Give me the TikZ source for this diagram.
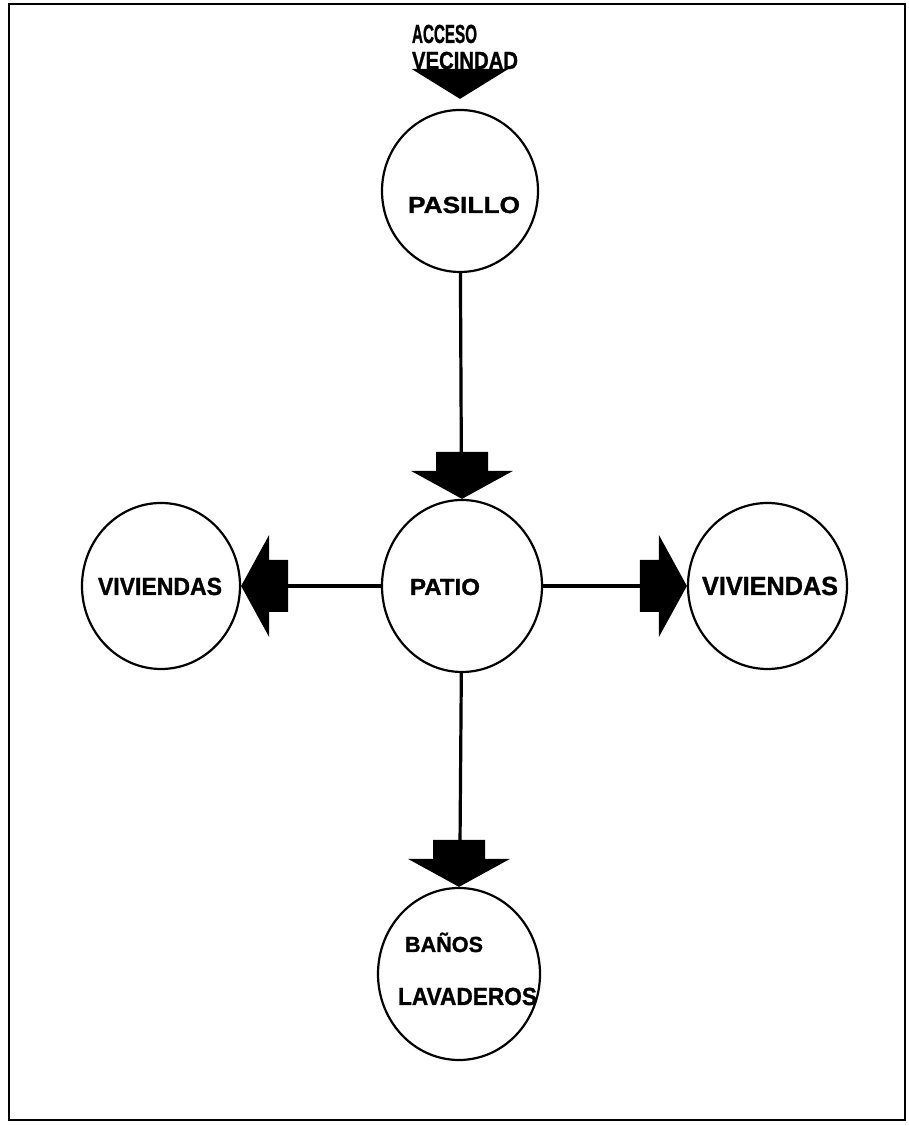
\documentclass[tikz,border=0pt]{standalone}
\usepackage{fontspec}
\setmainfont{Liberation Sans}[BoldFeatures={FakeBold=1.2}]
\usepackage{graphicx}
\usetikzlibrary{shapes.geometric,calc}
\newcommand\lbltext[3]{\resizebox{#1pt}{#2pt}{\smash{\bfseries #3}\vphantom{\bfseries B}}}
\newcommand\blockarrow[2]{\fill[shift={(#1)}, rotate=#2] (0,0) -- (-28,51) -- (-28,26) -- (-47,26) -- (-47,-26) -- (-28,-26) -- (-28,-51) -- cycle;}
\begin{document}
\begin{tikzpicture}[x=1pt,y=1pt,
  room/.style={draw, ellipse, line width=2.2pt, inner sep=0pt},
  conn/.style={line width=3.2pt, shorten >=46pt},
  lbl/.style={anchor=base west, inner sep=0pt, outer sep=0pt},
  frame/.style={line width=2pt}]
\useasboundingbox (0,0) rectangle (909,1126);
\draw[frame] (9,6) rectangle (905,1122);

% rooms
\node[room, minimum width=156pt, minimum height=162pt] (pasillo) at (460,935) {};
\node[room, minimum width=160pt, minimum height=172pt] (patio) at (462,540) {};
\node[room, minimum width=158pt, minimum height=166pt] (vivL) at (161,540) {};
\node[room, minimum width=159pt, minimum height=166pt] (vivR) at (767.5,540) {};
\node[room, minimum width=162pt, minimum height=172pt] (banos) at (459,152) {};

% entry arrow
\coordinate (entry) at ($(pasillo.north)+(0,10)$);
\fill (entry) -- ++(-48.5,30) -- ++(97,0) -- cycle;

% connectors
\draw[conn] (pasillo) -- (patio);
\blockarrow{patio.north}{-90}
\draw[conn] (patio) -- (vivL);
\blockarrow{vivL.east}{180}
\draw[conn] (patio) -- (vivR);
\blockarrow{vivR.west}{0}
\draw[conn] (patio) -- (banos);
\blockarrow{banos.north}{-90}

% labels
\node[lbl] (tacceso) at (412,1083) {\lbltext{65}{18}{ACCESO}};
\node[lbl] (tvecindad) at (412,1057) {\lbltext{106}{17}{VECINDAD}};
\node[lbl] (tpasillo) at (408,913) {\lbltext{112}{16}{PASILLO}};
\node[lbl] (tpatio) at (410,531) {\lbltext{70}{16}{PATIO}};
\node[lbl] (tvivL) at (98,531) {\lbltext{124}{17}{VIVIENDAS}};
\node[lbl] (tvivR) at (702,531) {\lbltext{136}{18}{VIVIENDAS}};
\node[lbl] (tbanos) at (405,174) {\lbltext{78}{15}{BAÑOS}};
\node[lbl] (tlava) at (398,121) {\lbltext{139}{17}{LAVADEROS}};
\end{tikzpicture}
\end{document}
